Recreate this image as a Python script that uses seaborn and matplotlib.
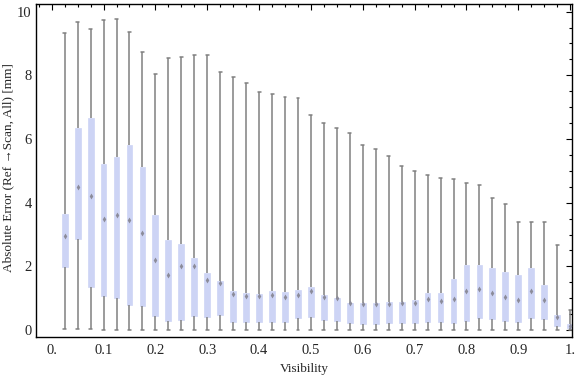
import numpy as np
import pandas as pd
import seaborn as sns
import matplotlib.pyplot as plt
from matplotlib.ticker import MultipleLocator, FixedLocator

# Values (one box per visibility bin)

visibility = [0.025, 0.05, 0.075, 0.1, 0.125, 0.15, 0.175, 0.2, 0.225, 0.25,
              0.275, 0.3, 0.325, 0.35, 0.375, 0.4, 0.425, 0.45, 0.475, 0.5,
              0.525, 0.55, 0.575, 0.6, 0.625, 0.65, 0.675, 0.7, 0.725, 0.75,
              0.775, 0.8, 0.825, 0.85, 0.875, 0.9, 0.925, 0.95, 0.975, 1.0]

err_min = [0.02, 0.02, 0.02, 0.0, 0.0, 0.0, 0.0, 0.0, 0.0, 0.0,
           0.0, 0.0, 0.0, 0.0, 0.0, 0.0, 0.0, 0.0, 0.0, 0.0,
           0.0, 0.0, 0.0, 0.0, 0.0, 0.0, 0.0, 0.0, 0.0, 0.0,
           0.0, 0.0, 0.0, 0.0, 0.0, 0.0, 0.0, 0.0, 0.0, 0.0]

err_q1 = [1.98, 2.86, 1.36, 1.06, 1.02, 0.80, 0.74, 0.43, 0.29, 0.32,
          0.43, 0.42, 0.48, 0.26, 0.26, 0.26, 0.26, 0.26, 0.39, 0.42,
          0.30, 0.29, 0.23, 0.20, 0.20, 0.23, 0.23, 0.23, 0.26, 0.26,
          0.23, 0.29, 0.39, 0.36, 0.29, 0.26, 0.39, 0.36, 0.14, 0.07]

err_median = [2.96, 4.48, 4.22, 3.48, 3.60, 3.46, 3.04, 2.20, 1.74, 2.00,
              2.00, 1.57, 1.47, 1.13, 1.08, 1.08, 1.10, 1.03, 1.10, 1.22,
              1.05, 1.02, 0.86, 0.83, 0.81, 0.82, 0.84, 0.86, 0.96, 0.90,
              0.97, 1.22, 1.30, 1.15, 1.03, 0.94, 1.22, 0.94, 0.42, 0.12]

err_q3 = [3.64, 6.35, 6.66, 5.22, 5.44, 5.80, 5.12, 3.61, 2.82, 2.70,
          2.26, 1.79, 1.55, 1.23, 1.16, 1.13, 1.23, 1.19, 1.26, 1.35,
          1.10, 1.02, 0.86, 0.85, 0.85, 0.88, 0.88, 0.94, 1.16, 1.16,
          1.60, 2.04, 2.04, 1.95, 1.82, 1.73, 1.95, 1.41, 0.47, 0.19]

err_max = [9.32, 9.67, 9.45, 9.73, 9.76, 9.35, 8.72, 8.03, 8.53, 8.57,
           8.63, 8.63, 8.11, 7.94, 7.75, 7.47, 7.40, 7.31, 7.28, 6.74,
           6.49, 6.34, 6.18, 5.80, 5.68, 5.47, 5.15, 4.98, 4.86, 4.77,
           4.73, 4.61, 4.57, 4.14, 3.95, 3.38, 3.38, 3.38, 2.66, 0.62]

x_ticks = [0.0, 0.1, 0.2, 0.3, 0.4, 0.5, 0.6, 0.7, 0.8, 0.9, 1.0]
x_tick_labels = ['0.', '0.1', '0.2', '0.3', '0.4', '0.5', '0.6', '0.7', '0.8', '0.9', '1.']
y_ticks = [0, 2, 4, 6, 8, 10]

# five points per bin -> quartiles come out exactly as read
rows = []
for i, v in enumerate(visibility):
    for val in (err_min[i], err_q1[i], err_median[i], err_q3[i], err_max[i]):
        rows.append((v, val))
df = pd.DataFrame(rows, columns=['Visibility', 'Error'])
med_df = pd.DataFrame({'Visibility': visibility, 'Median': err_median})

sns.set_style('white')
plt.rcParams['font.family'] = ['Liberation Serif', 'DejaVu Serif']

box_color = '#cdd4f5'
line_gray = '#808080'

fig = plt.figure(figsize=(5.76, 3.77), dpi=100)
ax = fig.add_axes([0.0625, 0.106, 0.9305, 0.8834])

sns.boxplot(data=df, x='Visibility', y='Error', native_scale=True,
            whis=(0, 100), width=0.45, color=box_color, saturation=1,
            linewidth=1.1, linecolor=line_gray, showfliers=False,
            boxprops={'edgecolor': box_color, 'linewidth': 0.5},
            medianprops={'visible': False},
            whiskerprops={'color': line_gray, 'linewidth': 1.1},
            capprops={'color': line_gray, 'linewidth': 1.1},
            ax=ax)

# Median markers
sns.scatterplot(data=med_df, x='Visibility', y='Median', marker='d',
                color='#8c8c9a', s=9, linewidth=0, zorder=5, ax=ax)

ax.set_xlim(-0.0303, 1.0035)
ax.set_ylim(-0.22, 10.24)

ax.xaxis.set_major_locator(FixedLocator(x_ticks))
ax.set_xticklabels(x_tick_labels)
ax.xaxis.set_minor_locator(MultipleLocator(0.025))
ax.yaxis.set_major_locator(FixedLocator(y_ticks))
ax.yaxis.set_minor_locator(MultipleLocator(0.5))

ax.tick_params(which='both', direction='in', top=True, right=True,
               color='black', width=0.8, labelsize=10.5)
ax.tick_params(axis='y', pad=3)
ax.tick_params(axis='x', pad=5)
ax.tick_params(which='major', length=4)
ax.tick_params(which='minor', length=2.5)

for s in ax.spines.values():
    s.set_color('black')
    s.set_linewidth(1.0)

ax.set_xlabel('Visibility', fontsize=9.5, labelpad=4)
ax.set_ylabel('Absolute Error (Ref \u2192Scan, All) [mm]', fontsize=9.5)
ax.yaxis.set_label_coords(-0.040, 0.508)

fig.savefig('out.png', dpi=100)
